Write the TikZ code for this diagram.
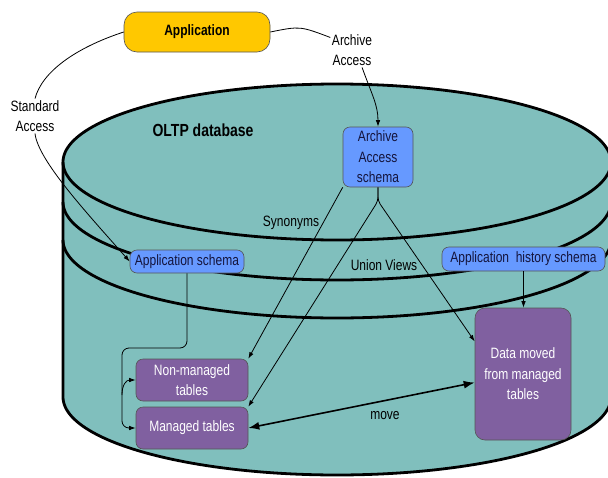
\documentclass[tikz,border=0pt]{standalone}
\usepackage{fontspec}
\setmainfont{Liberation Sans}[FakeStretch=0.8]
\usetikzlibrary{arrows.meta}
\definecolor{cyl}{RGB}{128,191,189}
\definecolor{gold}{RGB}{255,200,0}
\definecolor{boxblue}{RGB}{102,153,255}
\definecolor{boxpurple}{RGB}{128,96,160}
\definecolor{bordergray}{RGB}{85,85,85}
\definecolor{navy}{RGB}{20,20,60}
\begin{document}
\begin{tikzpicture}[x=1pt,y=1pt,yscale=-1,
  box/.style={draw=bordergray, line width=0.6pt, rounded corners=7pt, inner sep=0pt, align=center, font=\fontsize{15}{20.5}\selectfont},
  bluebox/.style={box, fill=boxblue, text=navy},
  purplebox/.style={box, fill=boxpurple, text=white},
  lbl/.style={inner sep=1.5pt, align=center, font=\fontsize{15}{20.5}\selectfont},
  conn/.style={line width=0.8pt, -{Latex[length=6.5pt,width=4.5pt]}},
  thin/.style={line width=0.8pt},
  cylline/.style={line width=2.8pt}
]
\useasboundingbox (0,0) rectangle (608,477);
\begin{scope}
\clip (0,0) rectangle (608,477);
\filldraw[fill=cyl, draw=black, line width=2.8pt, line join=round]
  (63,162) -- plot[domain=180:0,samples=100] ({337+274*cos(\x)},{397+78*sin(\x)})
  -- plot[domain=0:-180,samples=100] ({337+274*cos(\x)},{162+78*sin(\x)}) -- cycle;
\draw[cylline] plot[domain=180:0,samples=100] ({337+274*cos(\x)},{162+78*sin(\x)});
\draw[cylline] plot[domain=180:0,samples=100] ({337+274*cos(\x)},{202+78*sin(\x)});
\draw[cylline] plot[domain=180:0,samples=100] ({337+274*cos(\x)},{240+78*sin(\x)});
\end{scope}

\node[box, fill=gold, text=black, minimum width=146pt, minimum height=40pt, rounded corners=13pt, font=\bfseries\fontsize{15}{18}\selectfont] (app) at (197,32) {Application};
\node[font=\bfseries\fontsize{17.5}{20}\selectfont, inner sep=0pt] (oltp) at (203,130) {OLTP database};
\node[lbl] (sa) at (35,116) {Standard\\Access};
\node[lbl] (aa) at (352,50) {Archive\\Access};
\node[bluebox, minimum width=70pt, minimum height=60pt] (archive) at (378,157) {Archive\\Access\\schema};
\node[bluebox, minimum width=114pt, minimum height=23pt] (appschema) at (187,261.5) {Application schema};
\node[bluebox, minimum width=163pt, minimum height=24pt] (hist) at (523.5,259) {Application\ \ history schema};
\node[purplebox, minimum width=112pt, minimum height=42pt] (nonman) at (192,380) {Non-managed\\tables};
\node[purplebox, minimum width=112pt, minimum height=42pt] (man) at (192,428) {Managed tables};
\node[purplebox, minimum width=96pt, minimum height=132pt, rounded corners=10pt] (data) at (523,374) {Data moved\\from managed\\tables};
\node[lbl, inner sep=0pt] (syn) at (291,223) {Synonyms};
\node[lbl, inner sep=0pt] (uv) at (384,265) {Union Views};
\node[lbl, inner sep=0pt] (mv) at (385,416) {move};

% Standard access
\draw[thin] (app.west) .. controls (75,48) and (42,72) .. (sa.north);
\draw[conn] (sa.south) .. controls (38,160) and (85,211) .. (appschema.west);
% Archive access
\draw[thin] (app.east) .. controls (300,26) .. (aa.150);
\draw[conn] (aa.-60) .. controls (372,95) and (378,105) .. (archive.north);
% Synonyms
\draw[conn] (archive.south west) -- (nonman.north east);
% Union views
\coordinate (split) at (378,201);
\draw[conn, rounded corners=4pt] (archive.south) -- (split) -- (man.north east);
\draw[conn, rounded corners=4pt] (archive.south) -- (split) -- (data.146);
% history
\draw[conn] (hist.south) -- (hist.south |- data.north);
% application schema to tables
\coordinate (c1) at (187,348);
\coordinate (c2) at (122,348);
\coordinate (c3) at (122,428);
\coordinate (c4) at (122,395);
\draw[conn, rounded corners=7pt] (appschema.south) -- (c1) -- (c2) -- (c3) -- (man.west);
\draw[conn] (c4) .. controls (122,385) and (126,380) .. (nonman.west);
% move
\draw[line width=1.6pt, {Latex[length=11pt,width=8pt]}-{Latex[length=11pt,width=8pt]}] (man.east) -- (data.190);
\end{tikzpicture}
\end{document}
